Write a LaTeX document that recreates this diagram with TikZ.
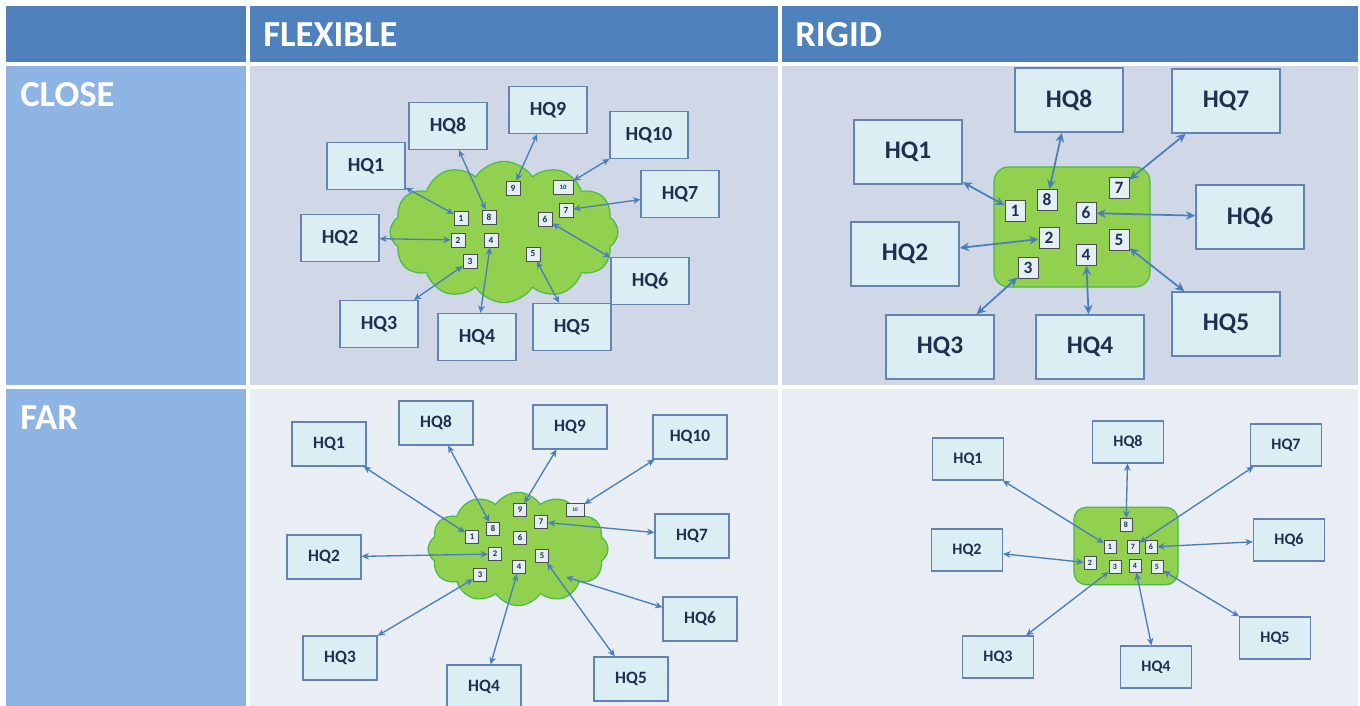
\documentclass[tikz,border=0pt]{standalone}
\usepackage{fontspec}
\setmainfont{Carlito}
\usetikzlibrary{arrows.meta,shapes.symbols}
\definecolor{hdr}{HTML}{4F81BD}
\definecolor{colA}{HTML}{8EB4E3}
\definecolor{rowA}{HTML}{D0D8E8}
\definecolor{rowB}{HTML}{E9EDF4}
\definecolor{hqfill}{HTML}{DBEEF4}
\definecolor{hqline}{HTML}{6483B0}
\definecolor{hqtext}{HTML}{1F2F4E}
\definecolor{arr}{HTML}{4A7EBB}
\definecolor{grn}{HTML}{92D050}
\definecolor{grnline}{HTML}{4CB848}
\definecolor{sqfill}{HTML}{E4EFF4}
\definecolor{sqline}{HTML}{4D4D4D}
\tikzset{
  hdrtext/.style={text=white, font=\fontsize{27.5}{31}\selectfont\bfseries, inner sep=0pt, anchor=west},
  hqbase/.style={rectangle, draw=hqline, fill=hqfill, text=hqtext, inner sep=0pt},
  hqA/.style={hqbase, line width=0.9pt, minimum width=58.5pt, minimum height=35.25pt, font=\fontsize{15}{18}\selectfont\bfseries},
  hqB/.style={hqbase, line width=1.2pt, minimum width=81pt, minimum height=48pt, font=\fontsize{19}{22}\selectfont\bfseries},
  hqC/.style={hqbase, line width=0.9pt, minimum width=55.5pt, minimum height=33pt, font=\fontsize{13}{16}\selectfont\bfseries},
  hqD/.style={hqbase, line width=0.9pt, minimum width=53.25pt, minimum height=31.5pt, font=\fontsize{12}{14}\selectfont\bfseries},
  sqbase/.style={rectangle, draw=sqline, fill=sqfill, text=hqtext, inner sep=0pt},
  sqA/.style={sqbase, line width=0.5pt, minimum width=10.5pt, minimum height=10.5pt, font=\fontsize{7}{8}\selectfont\bfseries},
  sqB/.style={sqbase, line width=0.7pt, minimum width=15pt, minimum height=15.75pt, font=\fontsize{13}{15}\selectfont\bfseries},
  sqC/.style={sqbase, line width=0.5pt, minimum width=10pt, minimum height=10pt, font=\fontsize{6.5}{7}\selectfont\bfseries},
  sqD/.style={sqbase, line width=0.5pt, minimum width=9pt, minimum height=9.75pt, font=\fontsize{6}{7}\selectfont\bfseries},
  cloudbox/.style={cloud, cloud puffs=12, cloud puff arc=115, draw=grnline, fill=grn, line width=0.9pt, inner sep=0pt},
  greenbox/.style={rectangle, rounded corners=11pt, draw=grnline, fill=grn, line width=0.9pt},
  linkA/.style={draw=arr, line width=1pt, {Stealth[length=5.5pt,width=5pt]}-{Stealth[length=5.5pt,width=5pt]}},
  linkB/.style={draw=arr, line width=1.3pt, {Stealth[length=7pt,width=6.5pt]}-{Stealth[length=7pt,width=6.5pt]}},
}
\begin{document}
\begin{tikzpicture}[x=0.75pt,y=-0.75pt]
\useasboundingbox (0,0) rectangle (1360,706);
\fill[white] (0,0) rectangle (1360,706);
% table cells
\fill[hdr] (6,6) rectangle (246,62);
\fill[hdr] (250,6) rectangle (778,62);
\fill[hdr] (782,6) rectangle (1358,62);
\fill[colA] (6,66) rectangle (246,385);
\fill[rowA] (250,66) rectangle (778,385);
\fill[rowA] (782,66) rectangle (1358,385);
\fill[colA] (6,389) rectangle (246,706);
\fill[rowB] (250,389) rectangle (778,706);
\fill[rowB] (782,389) rectangle (1358,706);
% headers
\node[hdrtext] (tFlex) at (263,35) {FLEXIBLE};
\node[hdrtext] (tRigid) at (795,35) {RIGID};
\node[hdrtext] (tClose) at (20,95) {CLOSE};
\node[hdrtext] (tFar) at (20,418) {FAR};

% ===== FLEXIBLE / CLOSE =====
\node[cloudbox, minimum width=171pt, minimum height=106pt] (aC) at (504,232) {};
\node[sqA] (a1) at (461,218) {1};
\node[sqA] (a8) at (489,217) {8};
\node[sqA] (a2) at (458,240) {2};
\node[sqA] (a4) at (491,240) {4};
\node[sqA] (a3) at (470,261) {3};
\node[sqA] (a9) at (513,188) {9};
\node[sqA, minimum width=15pt, font=\fontsize{5}{6}\selectfont\bfseries] (a10) at (563,187) {10};
\node[sqA] (a7) at (566,210) {7};
\node[sqA] (a6) at (545,219) {6};
\node[sqA] (a5) at (533,254) {5};
\node[hqA] (aH1) at (366,166) {HQ1};
\node[hqA] (aH8) at (448,126) {HQ8};
\node[hqA] (aH9) at (548,110) {HQ9};
\node[hqA] (aH10) at (649,135) {HQ10};
\node[hqA] (aH7) at (680,194) {HQ7};
\node[hqA] (aH2) at (340,238) {HQ2};
\node[hqA] (aH6) at (650,281) {HQ6};
\node[hqA] (aH3) at (379,324) {HQ3};
\node[hqA] (aH4) at (477,337) {HQ4};
\node[hqA] (aH5) at (572,327) {HQ5};
\foreach \i in {1,...,10} \draw[linkA] (aH\i) -- (a\i);

% ===== RIGID / CLOSE =====
\node[greenbox, minimum width=117pt, minimum height=90pt] (bG) at (1072,227) {};
\node[sqB] (b1) at (1015,211) {1};
\node[sqB] (b8) at (1047,200) {8};
\node[sqB] (b7) at (1119,188) {7};
\node[sqB] (b6) at (1086,213) {6};
\node[sqB] (b2) at (1049,238) {2};
\node[sqB] (b5) at (1119,240) {5};
\node[sqB] (b4) at (1086,255) {4};
\node[sqB] (b3) at (1028,268) {3};
\node[hqB] (bH1) at (908,152) {HQ1};
\node[hqB] (bH8) at (1069,100) {HQ8};
\node[hqB] (bH7) at (1226,101) {HQ7};
\node[hqB] (bH6) at (1250,217) {HQ6};
\node[hqB] (bH2) at (905,254) {HQ2};
\node[hqB] (bH5) at (1226,324) {HQ5};
\node[hqB] (bH3) at (940,347) {HQ3};
\node[hqB] (bH4) at (1090,347) {HQ4};
\foreach \i in {1,...,8} \draw[linkB] (bH\i) -- (b\i);

% ===== FLEXIBLE / FAR =====
\node[cloudbox, minimum width=135pt, minimum height=85pt] (cC) at (518,549) {};
\coordinate (c6end) at (566,577);
\node[sqC] (c1) at (472,537) {1};
\node[sqC] (c8) at (493,529) {8};
\node[sqC] (c9) at (520,510) {9};
\node[sqC] (c6) at (520,538) {6};
\node[sqC] (c7) at (541,522) {7};
\node[sqC, minimum width=13.5pt, font=\fontsize{4}{5}\selectfont\bfseries] (c10) at (575,510) {10};
\node[sqC] (c2) at (495,554) {2};
\node[sqC] (c5) at (542,556) {5};
\node[sqC] (c4) at (519,567) {4};
\node[sqC] (c3) at (480,575) {3};
\node[hqC] (cH1) at (329,444) {HQ1};
\node[hqC] (cH8) at (436,423) {HQ8};
\node[hqC] (cH9) at (570,427) {HQ9};
\node[hqC] (cH10) at (690,437) {HQ10};
\node[hqC] (cH2) at (324,557) {HQ2};
\node[hqC] (cH7) at (692,536) {HQ7};
\node[hqC] (cH6) at (700,619) {HQ6};
\node[hqC] (cH3) at (340,658) {HQ3};
\node[hqC] (cH4) at (484,687) {HQ4};
\node[hqC] (cH5) at (631,679) {HQ5};
\foreach \i in {1,2,3,4,5,7,8,9,10} \draw[linkA] (cH\i) -- (c\i);
\draw[linkA] (cH6) -- (c6end);

% ===== RIGID / FAR =====
\node[greenbox, rounded corners=9pt, minimum width=78pt, minimum height=58pt] (dG) at (1126,546) {};
\node[sqD] (d8) at (1126,525) {8};
\node[sqD] (d1) at (1110,547) {1};
\node[sqD] (d7) at (1133,547) {7};
\node[sqD] (d6) at (1151,547) {6};
\node[sqD] (d2) at (1090,563) {2};
\node[sqD] (d3) at (1115,567) {3};
\node[sqD] (d4) at (1135,566) {4};
\node[sqD] (d5) at (1157,567) {5};
\node[hqD] (dH1) at (968,459) {HQ1};
\node[hqD] (dH8) at (1128,442) {HQ8};
\node[hqD] (dH7) at (1286,445) {HQ7};
\node[hqD] (dH2) at (967,550) {HQ2};
\node[hqD] (dH6) at (1289,540) {HQ6};
\node[hqD] (dH3) at (998,657) {HQ3};
\node[hqD] (dH4) at (1156,667) {HQ4};
\node[hqD] (dH5) at (1275,638) {HQ5};
\foreach \i in {1,...,8} \draw[linkA] (dH\i) -- (d\i);
\end{tikzpicture}
\end{document}
